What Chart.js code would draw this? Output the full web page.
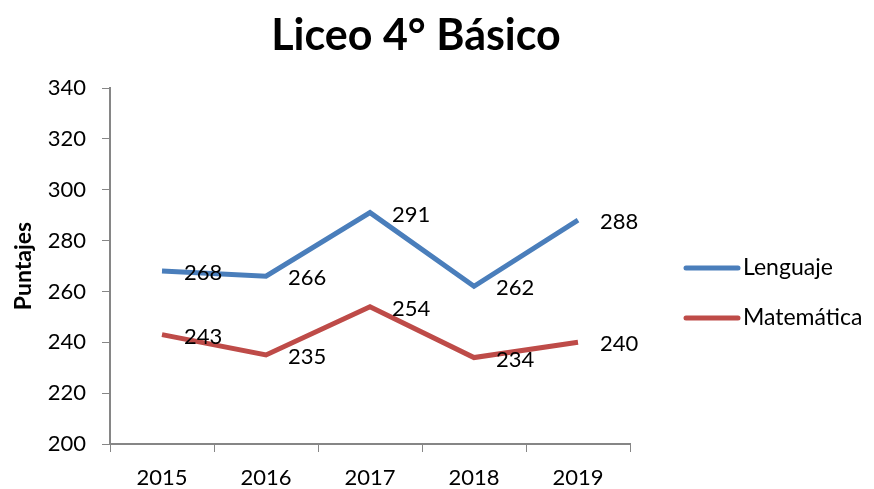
<!DOCTYPE html>
<html lang="es">
<head>
  <meta charset="UTF-8">
  <title>Liceo 4° Básico</title>
  <script src="https://cdn.jsdelivr.net/npm/chart.js"></script>
  <style>
    body { margin: 0; background: #fff; }
    .wrap { width: 874px; height: 489px; }
  </style>
</head>
<body>
  <div class="wrap"><canvas id="myChart" width="874" height="489"></canvas></div>

  <script>
    // datos
    const years = ['2015', '2016', '2017', '2018', '2019'];
    const lenguaje = [268, 266, 291, 262, 288];
    const matematica = [243, 235, 254, 234, 240];
    const seriesNames = ['Lenguaje', 'Matemática'];
    const yTicks = [200, 220, 240, 260, 280, 300, 320, 340];
    const chartTitle = 'Liceo 4° Básico';

    const font = 'Lato, "Open Sans", sans-serif';
    const axisGray = '#868686';

    // etiquetas de valor a la derecha de cada punto
    const valueLabels = {
      id: 'valueLabels',
      afterDatasetsDraw(chart) {
        const ctx = chart.ctx;
        ctx.save();
        ctx.font = '22px ' + font;
        ctx.fillStyle = '#000';
        ctx.textAlign = 'left';
        ctx.textBaseline = 'middle';
        chart.data.datasets.forEach((ds, i) => {
          chart.getDatasetMeta(i).data.forEach((pt, j) => {
            ctx.fillText(ds.data[j], pt.x + 22, pt.y + 2);
          });
        });
        ctx.restore();
      }
    };

    // título y leyenda a mano (centrado sobre todo el lienzo)
    const extras = {
      id: 'extras',
      afterDraw(chart) {
        const ctx = chart.ctx;
        ctx.save();
        ctx.fillStyle = '#000';
        ctx.font = 'bold 43px ' + font;
        ctx.textAlign = 'center';
        ctx.textBaseline = 'middle';
        ctx.fillText(chartTitle, 416, 36);

        ctx.font = '23px ' + font;
        ctx.textAlign = 'left';
        ctx.lineCap = 'round';
        chart.data.datasets.forEach((ds, i) => {
          const y = 268 + i * 50;
          ctx.strokeStyle = ds.borderColor;
          ctx.lineWidth = 5;
          ctx.beginPath();
          ctx.moveTo(686, y);
          ctx.lineTo(738, y);
          ctx.stroke();
          ctx.fillStyle = '#000';
          ctx.fillText(ds.label, 743, y);
        });
        ctx.restore();
      }
    };

    const ctx = document.getElementById('myChart').getContext('2d');
    const myChart = new Chart(ctx, {
      type: 'line',
      data: {
        labels: years,
        datasets: [
          { label: seriesNames[0], data: lenguaje, borderColor: '#4a7ebb', borderWidth: 5, pointRadius: 0, tension: 0, fill: false },
          { label: seriesNames[1], data: matematica, borderColor: '#be4b48', borderWidth: 5, pointRadius: 0, tension: 0, fill: false }
        ]
      },
      options: {
        responsive: false,
        animation: false,
        layout: { padding: { left: 10, right: 244, top: 88, bottom: 0 } },
        plugins: {
          legend: { display: false },
          tooltip: { enabled: false },
          title: { display: false }
        },
        scales: {
          x: {
            offset: true,
            grid: { drawOnChartArea: false, drawTicks: true, tickLength: 8, color: axisGray, offset: true },
            border: { color: axisGray, width: 2 },
            ticks: { color: '#000', font: { family: font, size: 22 }, padding: 13 },
            afterFit(scale) { scale.height = 45; }
          },
          y: {
            min: 200,
            max: 340,
            afterBuildTicks(scale) { scale.ticks = yTicks.map(v => ({ value: v })); },
            grid: { drawOnChartArea: false, drawTicks: true, tickLength: 8, color: axisGray },
            border: { color: axisGray, width: 2 },
            ticks: { color: '#000', font: { family: font, size: 22 }, padding: 16 },
            title: {
              display: true,
              text: 'Puntajes',
              color: '#000',
              font: { family: font, size: 23, weight: 'bold' },
              padding: { top: 0, bottom: 0 }
            },
            afterFit(scale) { scale.width = 100; }
          }
        }
      },
      plugins: [valueLabels, extras]
    });
  </script>
</body>
</html>
